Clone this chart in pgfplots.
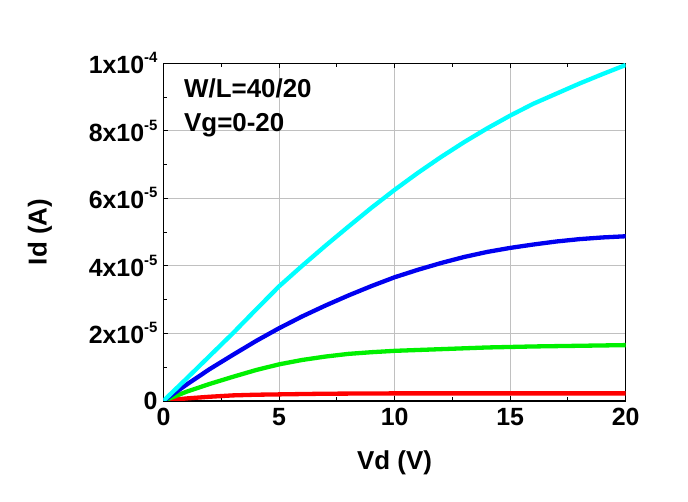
\documentclass[border=0pt]{standalone}
\usepackage{fontspec}
\setmainfont{Liberation Sans}
\usepackage{pgfplots}
\pgfplotsset{compat=1.18}
\definecolor{gridgray}{RGB}{192,192,192}
\definecolor{ccyan}{RGB}{0,255,255}
\definecolor{cblue}{RGB}{0,0,240}
\definecolor{cgreen}{RGB}{0,240,0}
\definecolor{cred}{RGB}{255,0,0}
\newcommand{\sci}[2]{#1x10\raisebox{0.45em}{\fontsize{15}{15}\selectfont #2}}
\begin{document}
\begin{tikzpicture}[x=1bp,y=1bp]
\useasboundingbox (-163.5,-101.2) rectangle (524.5,400.8);
\begin{axis}[
  at={(0,0)}, anchor=south west, scale only axis,
  width=462.2bp, height=337.5bp,
  xmin=0, xmax=20, ymin=0, ymax=1e-4,
  scaled y ticks=false, scaled x ticks=false,
  xtick={0,5,10,15,20}, xticklabels={0,5,10,15,20},
  ytick={0,2e-5,4e-5,6e-5,8e-5,1e-4},
  yticklabels={0,\sci{2}{-5},\sci{4}{-5},\sci{6}{-5},\sci{8}{-5},\sci{1}{-4}},
  minor xtick={2.5,7.5,12.5,17.5},
  minor ytick={1e-5,3e-5,5e-5,7e-5,9e-5},
  xtick pos=both, ytick pos=left, tick align=inside,
  major tick length=5bp, minor tick length=4bp,
  every tick/.style={black, line width=1bp},
  grid=major, major grid style={gridgray, line width=1bp},
  axis line style={black, line width=1.5bp},
  ticklabel style={font=\bfseries\fontsize{25}{25}\selectfont},
  xticklabel style={yshift=-4bp},
  yticklabel style={xshift=-2.5bp},
  xlabel={Vd (V)}, ylabel={Id (A)},
  every axis x label/.style={at={(axis description cs:0.5,0)}, yshift=-62bp, anchor=center, font=\bfseries\fontsize{26}{26}\selectfont},
  every axis y label/.style={at={(axis description cs:0,0.5)}, xshift=-123.5bp, rotate=90, anchor=center, font=\bfseries\fontsize{26}{26}\selectfont},
  every axis plot/.append style={line width=4.3bp, line join=round, no marks},
]
\addplot[cred] coordinates {(0,0) (1,0.07e-5) (2,0.12e-5) (3,0.16e-5) (4,0.18e-5) (5,0.19e-5) (7,0.21e-5) (10,0.22e-5) (15,0.22e-5) (20,0.22e-5)};
\addplot[cgreen] coordinates {(0,0) (1,0.27e-5) (2,0.50e-5) (3,0.71e-5) (4,0.91e-5) (5,1.08e-5) (6,1.21e-5) (7,1.31e-5) (8,1.39e-5) (9,1.44e-5) (10,1.48e-5) (12,1.53e-5) (14,1.58e-5) (16,1.61e-5) (18,1.63e-5) (20,1.65e-5)};
\addplot[cblue] coordinates {(0,0) (1,0.48e-5) (2,0.94e-5) (3,1.36e-5) (4,1.77e-5) (5,2.15e-5) (6,2.50e-5) (7,2.82e-5) (8,3.12e-5) (9,3.40e-5) (10,3.66e-5) (11,3.88e-5) (12,4.08e-5) (13,4.26e-5) (14,4.41e-5) (15,4.53e-5) (16,4.63e-5) (17,4.72e-5) (18,4.79e-5) (19,4.84e-5) (20,4.875e-5)};
\addplot[ccyan] coordinates {(0,0) (1,0.66e-5) (2,1.33e-5) (3,2.00e-5) (4,2.70e-5) (5,3.39e-5) (6,4.00e-5) (7,4.59e-5) (8,5.16e-5) (9,5.72e-5) (10,6.25e-5) (11,6.75e-5) (12,7.22e-5) (13,7.66e-5) (14,8.07e-5) (15,8.45e-5) (16,8.80e-5) (17,9.10e-5) (18,9.40e-5) (19,9.68e-5) (20,9.95e-5)};
\node[anchor=base west, font=\bfseries\fontsize{26}{26}\selectfont, inner sep=0pt] at (rel axis cs:0.0444,0.899) {W/L=40/20};
\node[anchor=base west, font=\bfseries\fontsize{26}{26}\selectfont, inner sep=0pt] at (rel axis cs:0.0444,0.797) {Vg=0-20};
\end{axis}
\end{tikzpicture}
\end{document}
